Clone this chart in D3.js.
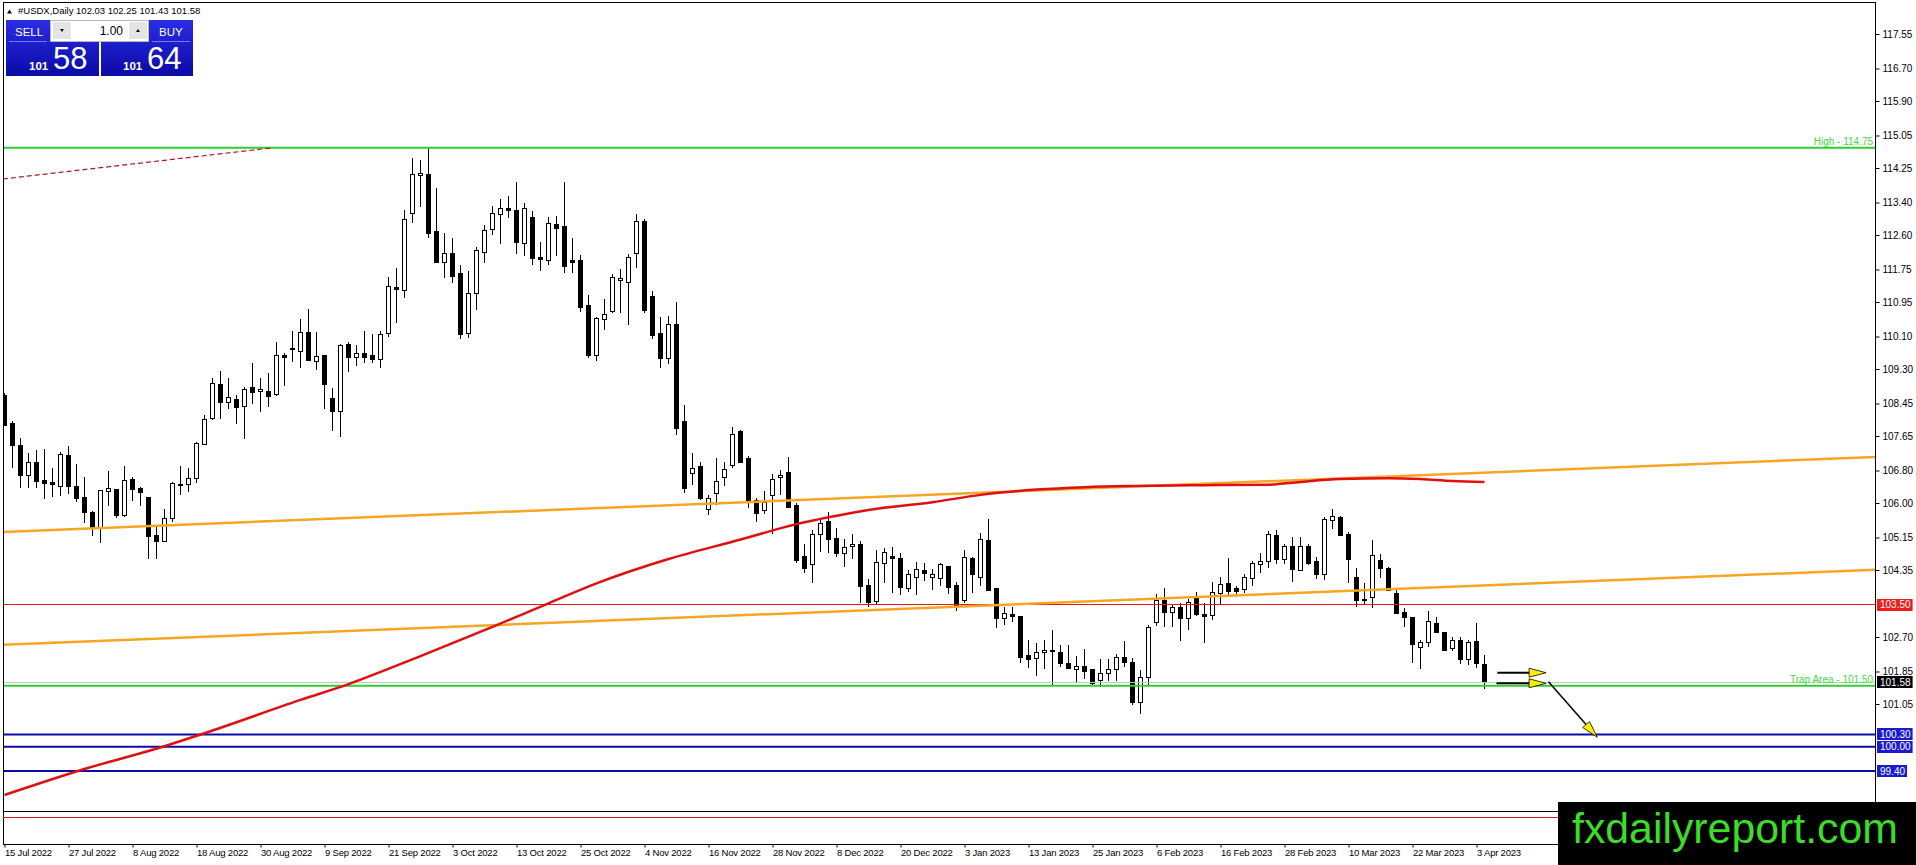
<!DOCTYPE html>
<html>
<head>
<meta charset="utf-8">
<script src="https://cdnjs.cloudflare.com/ajax/libs/d3/7.8.5/d3.min.js"></script>
<style>
    html, body { margin: 0; padding: 0; background: #fff; }
    svg { display: block; font-family: "Liberation Sans", Arial, sans-serif; }
</style>
</head>
<body>
<div id="chart"></div>
<script>
// daily bars, 15 Jul 2022 .. 4 Apr 2023
var opens = [108.66,107.97,107.43,106.69,107.01,106.56,106.52,106.42,107.18,106.42,106.15,105.78,105.38,106.30,106.34,105.70,106.59,106.37,106.15,105.21,
    105.07,105.63,106.47,106.47,106.61,107.45,108.09,108.93,108.49,108.56,108.39,108.86,108.76,108.76,108.68,109.64,109.82,109.74,110.21,109.50,
    109.64,108.58,108.26,109.91,109.59,109.69,109.64,109.54,110.19,111.32,111.24,113.14,114.08,114.10,112.70,111.93,112.16,111.66,110.19,111.17,
    112.18,112.75,113.12,113.26,113.21,112.40,113.04,112.06,111.98,112.87,112.82,111.98,111.98,110.88,109.64,110.53,110.73,111.49,111.44,112.16,
    112.94,111.10,110.19,109.57,110.41,108.02,106.74,106.91,105.85,106.25,106.64,106.94,107.77,107.11,106.07,105.83,106.20,106.64,106.76,105.95,
    104.69,104.50,105.24,105.56,105.14,104.77,104.94,104.99,103.97,103.58,104.52,104.69,104.64,103.90,104.18,104.35,104.18,104.15,104.45,103.97,
    103.61,104.64,104.18,105.09,103.91,103.17,103.27,103.22,102.26,102.18,102.33,102.38,102.33,102.06,101.91,101.99,101.91,101.64,101.81,101.91,
    102.21,102.08,101.10,101.72,103.07,103.61,103.31,103.44,103.17,103.68,103.27,103.24,103.78,104.03,103.91,103.88,104.15,104.50,104.57,105.21,
    104.62,104.94,104.35,104.94,104.57,104.25,105.58,105.65,105.24,104.18,103.64,103.68,104.59,104.40,103.78,103.31,103.19,102.45,102.57,103.04,
    102.82,102.43,102.63,102.16,102.60,102.03];
var highs = [108.71,108.02,107.60,107.23,107.30,107.33,106.86,107.25,107.40,106.96,106.64,105.80,106.32,106.79,106.35,106.91,106.64,106.40,106.16,105.41,
    105.85,106.52,106.91,106.86,107.50,108.17,109.08,109.25,109.08,108.66,108.86,109.45,109.08,109.20,109.96,109.69,110.23,110.53,110.78,110.21,
    109.64,108.83,109.91,109.96,109.89,110.23,110.16,110.23,111.56,111.79,113.21,114.50,114.45,114.74,113.76,112.65,112.53,111.86,111.71,112.30,
    112.85,113.31,113.49,113.56,113.90,113.39,113.19,112.43,113.04,113.07,113.90,112.53,112.11,111.12,110.58,111.02,111.64,111.76,112.13,113.12,
    113.00,111.22,110.58,110.60,110.95,108.41,107.23,107.01,106.20,107.11,107.01,107.87,107.80,107.16,106.12,106.29,106.71,106.81,107.13,106.00,
    105.00,105.33,105.58,105.78,105.38,105.11,105.24,105.06,104.13,104.84,104.89,104.91,104.77,104.35,104.55,104.52,104.37,104.52,104.46,104.05,
    104.84,104.67,105.26,105.61,103.91,103.44,103.44,103.22,102.63,102.55,102.63,102.87,102.50,102.50,102.23,102.40,101.92,102.16,102.16,102.28,
    102.60,102.18,101.89,102.99,103.76,103.91,103.51,103.54,103.64,103.81,103.54,104.05,104.18,104.64,103.96,104.25,104.57,104.77,105.31,105.33,
    104.99,105.16,105.16,104.99,104.67,105.65,105.85,105.68,105.28,104.40,104.03,105.09,104.74,104.42,103.91,103.41,103.19,102.63,103.34,103.19,
    102.82,102.70,102.70,102.63,103.04,102.25];
var lows = [107.90,106.86,106.37,106.37,106.37,106.10,106.15,106.17,106.22,106.02,105.51,105.19,105.01,105.92,105.63,105.65,106.05,105.92,104.62,104.62,
    105.04,105.53,106.20,106.27,106.49,107.43,108.04,108.07,108.31,107.94,107.57,108.44,108.24,108.36,108.63,108.88,109.47,109.32,109.52,109.27,
    108.31,107.77,107.62,109.22,109.37,109.45,109.45,109.32,110.09,110.43,111.05,112.89,113.29,112.53,111.93,111.54,111.42,110.04,110.06,110.75,
    111.91,112.60,112.38,113.02,112.13,112.08,111.86,111.71,111.86,112.08,111.66,111.66,110.70,109.57,109.50,110.26,110.68,110.68,110.38,111.79,
    110.68,110.04,109.32,109.42,107.67,106.25,106.44,106.07,105.70,105.95,106.42,106.86,106.98,105.88,105.53,105.73,105.24,106.20,105.88,104.52,
    104.27,104.03,104.79,104.77,104.67,104.42,104.62,103.54,103.44,103.51,104.03,103.78,103.73,103.81,103.73,104.08,103.86,103.96,103.76,103.34,
    103.54,103.78,103.96,103.83,102.92,102.99,103.07,102.06,101.94,101.74,101.91,101.53,101.96,101.91,101.56,101.67,101.53,101.47,101.62,101.62,
    101.96,101.02,100.80,101.53,102.97,102.94,102.94,102.60,102.87,103.22,102.55,103.12,103.51,103.71,103.76,103.78,103.96,104.27,104.40,104.50,
    104.50,104.05,104.32,104.47,104.13,104.10,105.36,105.18,104.03,103.44,103.51,103.41,104.15,103.83,103.27,102.94,102.06,101.91,102.45,102.80,
    102.36,102.36,102.04,102.01,101.94,101.43];
var closes = [107.92,107.43,106.69,107.01,106.54,106.49,106.47,107.21,106.42,106.12,105.78,105.38,106.32,106.37,105.70,106.56,106.34,106.27,105.19,105.07,
    105.63,106.49,106.45,106.61,107.48,108.07,108.95,108.49,108.61,108.36,108.81,108.73,108.81,108.63,109.64,109.59,109.79,110.21,109.52,109.62,
    108.93,108.26,109.89,109.59,109.69,109.59,109.54,110.16,111.34,111.27,112.99,114.10,114.12,112.65,111.93,112.16,111.59,110.16,111.17,112.23,
    112.72,113.14,113.26,113.21,112.43,113.26,112.03,112.01,112.89,112.77,111.84,111.93,110.83,109.64,110.55,110.65,111.56,111.54,112.06,112.94,
    110.75,110.14,109.57,110.41,107.85,106.37,106.86,106.12,106.12,106.54,106.84,107.70,107.01,106.02,105.75,106.02,106.59,106.69,105.90,104.59,
    104.40,105.24,105.51,105.11,104.77,104.91,104.98,103.95,103.56,104.55,104.79,104.64,103.93,104.25,104.37,104.28,104.25,104.50,103.93,103.46,
    104.67,104.25,105.11,103.86,103.17,103.29,103.22,102.21,102.16,102.33,102.38,102.36,102.06,101.94,101.99,101.86,101.56,101.81,101.91,102.21,
    102.08,101.10,101.72,102.94,103.61,103.31,103.44,103.17,103.56,103.27,103.22,103.81,104.00,103.83,103.83,104.18,104.52,104.57,105.24,104.62,
    104.94,104.37,104.94,104.52,104.25,105.61,105.68,105.21,104.62,103.61,103.61,104.72,104.40,103.86,103.29,103.19,102.53,102.57,103.09,102.82,
    102.38,102.63,102.16,102.57,102.06,101.58];

var dateLabels = ["15 Jul 2022", "27 Jul 2022", "8 Aug 2022", "18 Aug 2022", "30 Aug 2022", "9 Sep 2022", "21 Sep 2022", "3 Oct 2022",
    "13 Oct 2022", "25 Oct 2022", "4 Nov 2022", "16 Nov 2022", "28 Nov 2022", "8 Dec 2022", "20 Dec 2022", "3 Jan 2023",
    "13 Jan 2023", "25 Jan 2023", "6 Feb 2023", "16 Feb 2023", "28 Feb 2023", "10 Mar 2023", "22 Mar 2023", "3 Apr 2023"];
var dateIndex = d3.range(0, 185, 8);

var priceTicks = [117.55, 116.70, 115.90, 115.05, 114.25, 113.40, 112.60, 111.75, 110.95, 110.10, 109.30, 108.45,
    107.65, 106.80, 106.00, 105.15, 104.35, 102.70, 101.85, 101.05];

// moving average, read at bar index
var maIndex = [0, 10, 20, 25, 37, 43, 52, 61, 68, 74, 83, 92, 99, 103, 108, 116, 122, 129, 135, 141, 150, 158, 162, 167, 173, 177, 181, 185];
var maValue = [98.81, 99.45, 100.01, 100.33, 101.15, 101.54, 102.23, 102.95, 103.53, 104.02, 104.62, 105.10, 105.48, 105.65, 105.83, 106.02,
    106.20, 106.33, 106.39, 106.42, 106.44, 106.45, 106.52, 106.59, 106.61, 106.59, 106.54, 106.52];

// trend lines [bar, price]
var upperTrend = [[0, 105.29], [180, 106.71]];
var lowerTrend = [[0, 102.51], [180, 103.93]];
var oldTrend = [[-0.2, 113.98], [33.2, 114.74]];

var highLevel = 114.75;
var pivotLevel = 103.50;
var trapLevel = 101.50;
var bidPrice = 101.58;
var askPrice = 101.64;
var targetLevels = [100.30, 100.00, 99.40];

// forecast arrows [bar, price]
var arrowH1 = [[186.6, 101.82], [192.7, 101.82]];
var arrowH2 = [[186.5, 101.56], [192.7, 101.56]];
var arrowDown = [[193.0, 101.60], [199.1, 100.23]];

var width = 1916, height = 865,
    plotLeft = 3, plotRight = 1875, plotTop = 2, mainBottom = 811, axisBottom = 844;

var x = d3.scaleLinear().domain([0, 185]).range([4.5, 1484.5]);
var y = d3.scaleLinear().domain([117.55, 102.70]).range([34, 637]);

var svg = d3.select("#chart").append("svg")
    .attr("width", width)
    .attr("height", height);

var defs = svg.append("defs");
defs.append("clipPath").attr("id", "main")
    .append("rect").attr("x", plotLeft).attr("y", plotTop)
    .attr("width", plotRight - plotLeft).attr("height", mainBottom - plotTop);
var grad = defs.append("linearGradient").attr("id", "btn").attr("x1", 0).attr("y1", 0).attr("x2", 0).attr("y2", 1);
grad.append("stop").attr("offset", "0%").attr("stop-color", "#2c2ce4");
grad.append("stop").attr("offset", "100%").attr("stop-color", "#0a0aa6");

var plot = svg.append("g").attr("clip-path", "url(#main)");

var bars = opens.map(function (o, i) {
    return {i: i, o: o, h: highs[i], l: lows[i], c: closes[i]};
});

// candles
var candle = plot.append("g").attr("shape-rendering", "crispEdges")
    .selectAll("g").data(bars).enter().append("g");

candle.append("line")
    .attr("x1", function (d) { return x(d.i); })
    .attr("x2", function (d) { return x(d.i); })
    .attr("y1", function (d) { return Math.round(y(d.h)); })
    .attr("y2", function (d) { return Math.round(y(d.l)); })
    .attr("stroke", "#000").attr("stroke-width", 1);

candle.append("rect")
    .attr("x", function (d) { return x(d.i) - 2; })
    .attr("width", 4)
    .attr("y", function (d) { return Math.round(y(Math.max(d.o, d.c))) + 0.5; })
    .attr("height", function (d) {
        return Math.max(1, Math.round(y(Math.min(d.o, d.c))) - Math.round(y(Math.max(d.o, d.c))));
    })
    .attr("fill", function (d) { return d.c >= d.o ? "#fff" : "#000"; })
    .attr("stroke", "#000").attr("stroke-width", 1);

// rays extended over the whole plot
function ray(pts) {
    var slope = (pts[1][1] - pts[0][1]) / (pts[1][0] - pts[0][0]);
    var i0 = x.invert(plotLeft), i1 = x.invert(plotRight);
    return [[i0, pts[0][1] + slope * (i0 - pts[0][0])], [i1, pts[0][1] + slope * (i1 - pts[0][0])]];
}

var line = d3.line()
    .x(function (d) { return x(d[0]); })
    .y(function (d) { return y(d[1]); });

function hline(price, color, w) {
    plot.append("line")
        .attr("x1", plotLeft).attr("x2", plotRight)
        .attr("y1", y(price)).attr("y2", y(price))
        .attr("stroke", color).attr("stroke-width", w);
}

hline(bidPrice, "#c4c4c4", 1);
hline(highLevel, "#32cd32", 2);
hline(trapLevel, "#32cd32", 2);
hline(pivotLevel, "#e01818", 1);
targetLevels.forEach(function (p) { hline(p, "#0c0ca8", 2); });

plot.append("path").datum(oldTrend).attr("d", line)
    .attr("fill", "none").attr("stroke", "#b01a1a").attr("stroke-width", 1.2).attr("stroke-dasharray", "5,3");

[upperTrend, lowerTrend].forEach(function (t) {
    plot.append("path").datum(ray(t)).attr("d", line)
        .attr("fill", "none").attr("stroke", "#f5a623").attr("stroke-width", 2.5);
});

plot.append("path")
    .datum(maIndex.map(function (d, k) { return [d, maValue[k]]; }))
    .attr("d", line.curve(d3.curveMonotoneX))
    .attr("fill", "none").attr("stroke", "#e01010").attr("stroke-width", 2.5);
line.curve(d3.curveLinear);

// level captions
plot.append("text").attr("x", plotRight - 2).attr("y", y(highLevel) - 3)
    .attr("text-anchor", "end").attr("font-size", 10).attr("fill", "#45d845")
    .text("High - " + highLevel.toFixed(2));
plot.append("text").attr("x", plotRight - 2).attr("y", y(trapLevel) - 3)
    .attr("text-anchor", "end").attr("font-size", 10).attr("fill", "#45d845")
    .text("Trap Area - " + trapLevel.toFixed(2));

// arrows
function arrow(pts, lw) {
    var x0 = x(pts[0][0]), y0 = y(pts[0][1]), x1 = x(pts[1][0]), y1 = y(pts[1][1]);
    var len = Math.hypot(x1 - x0, y1 - y0), ux = (x1 - x0) / len, uy = (y1 - y0) / len;
    var bx = x1 - ux * 17, by = y1 - uy * 17;
    svg.append("line").attr("x1", x0).attr("y1", y0).attr("x2", bx).attr("y2", by)
        .attr("stroke", "#000").attr("stroke-width", lw);
    svg.append("path")
        .attr("d", "M" + x1 + "," + y1 + "L" + (bx - uy * 4.5) + "," + (by + ux * 4.5) +
            "L" + (bx + uy * 4.5) + "," + (by - ux * 4.5) + "Z")
        .attr("fill", "#ffee00").attr("stroke", "#000").attr("stroke-width", 0.8);
}
arrow(arrowH1, 2);
arrow(arrowH2, 2);
arrow(arrowDown, 1.5);

// frame and sub window
svg.append("rect").attr("x", plotLeft + 0.5).attr("y", plotTop + 0.5)
    .attr("width", plotRight - plotLeft).attr("height", axisBottom - plotTop)
    .attr("fill", "none").attr("stroke", "#000").attr("stroke-width", 1);
svg.append("line").attr("x1", plotLeft).attr("x2", plotRight).attr("y1", mainBottom + 0.5).attr("y2", mainBottom + 0.5)
    .attr("stroke", "#000");
svg.append("line").attr("x1", plotLeft).attr("x2", plotRight).attr("y1", mainBottom + 6.5).attr("y2", mainBottom + 6.5)
    .attr("stroke", "#d42020");

// price axis
var yAxis = svg.append("g")
    .attr("transform", "translate(" + (plotRight + 0.5) + ",0)")
    .call(d3.axisRight(y).tickValues(priceTicks).tickSize(4).tickPadding(3).tickFormat(d3.format(".2f")));
yAxis.select(".domain").remove();
yAxis.selectAll("text").attr("font-size", 10).attr("font-family", "Liberation Sans, Arial").attr("fill", "#000");

// time axis
var xAxis = svg.append("g")
    .attr("transform", "translate(0," + (axisBottom + 0.5) + ")")
    .call(d3.axisBottom(x).tickValues(dateIndex).tickSize(3).tickFormat(function (d, k) { return dateLabels[k]; }));
xAxis.select(".domain").remove();
xAxis.selectAll("text").attr("font-size", 9.5).attr("letter-spacing", "-0.2px")
    .attr("font-family", "Liberation Sans, Arial").attr("text-anchor", "start")
    .attr("x", 0).attr("y", 5).attr("dy", "0.71em").attr("fill", "#000");

// price boxes on the axis
function priceBox(price, color) {
    var g = svg.append("g");
    var t = g.append("text").attr("x", plotRight + 5).attr("y", y(price)).attr("dy", "0.35em")
        .attr("font-size", 10).attr("fill", "#fff").text(price.toFixed(2));
    var w = t.node().getComputedTextLength();
    g.insert("rect", "text").attr("x", plotRight + 2).attr("y", Math.round(y(price)) - 6)
        .attr("width", w + 5).attr("height", 12).attr("fill", color);
}
priceBox(pivotLevel, "#ee1c1c");
priceBox(bidPrice, "#000");
targetLevels.forEach(function (p) { priceBox(p, "#1a1ad0"); });

// header and one click trading panel
svg.append("path").attr("d", "M7,13.5L9.5,9.5L12,13.5Z").attr("fill", "#000");
svg.append("text").attr("x", 18).attr("y", 14).attr("font-size", 9.5).attr("fill", "#000")
    .text("#USDX,Daily  " + [opens[185], highs[185], lows[185], closes[185]].map(function (v) { return v.toFixed(2); }).join(" "));

svg.append("rect").attr("x", 6).attr("y", 20).attr("width", 93).attr("height", 56).attr("fill", "url(#btn)");
svg.append("rect").attr("x", 101).attr("y", 20).attr("width", 92).attr("height", 56).attr("fill", "url(#btn)");
svg.append("line").attr("x1", 9).attr("x2", 47).attr("y1", 41.5).attr("y2", 41.5).attr("stroke", "#7a7aff");
svg.append("line").attr("x1", 152).attr("x2", 190).attr("y1", 41.5).attr("y2", 41.5).attr("stroke", "#7a7aff");
svg.append("rect").attr("x", 50.5).attr("y", 20.5).attr("width", 98).attr("height", 21)
    .attr("fill", "#fff").attr("stroke", "#b8b8b8");
svg.append("rect").attr("x", 53).attr("y", 22).attr("width", 18).attr("height", 17).attr("fill", "#e4e4e4");
svg.append("rect").attr("x", 129).attr("y", 22).attr("width", 18).attr("height", 17).attr("fill", "#e4e4e4");
svg.append("path").attr("d", "M60,29L64,29L62,32Z").attr("fill", "#000");
svg.append("path").attr("d", "M136,32L140,32L138,29Z").attr("fill", "#000");
svg.append("text").attr("x", 123).attr("y", 35).attr("text-anchor", "end").attr("font-size", 12).attr("fill", "#000").text("1.00");

svg.append("text").attr("x", 15).attr("y", 36).attr("font-size", 11.5).attr("fill", "#fff").text("SELL");
svg.append("text").attr("x", 159).attr("y", 36).attr("font-size", 11.5).attr("fill", "#fff").text("BUY");

[[bidPrice, 29, 53], [askPrice, 123, 147]].forEach(function (d) {
    var s = d[0].toFixed(2).split(".");
    svg.append("text").attr("x", d[1]).attr("y", 70).attr("font-size", 11.5).attr("font-weight", "bold")
        .attr("fill", "#fff").text(s[0]);
    svg.append("text").attr("x", d[2]).attr("y", 69).attr("font-size", 31).attr("fill", "#fff").text(s[1]);
});

// logo
svg.append("rect").attr("x", 1558).attr("y", 802).attr("width", 358).attr("height", 63).attr("fill", "#000");
svg.append("text").attr("x", 1572).attr("y", 843).attr("font-size", 42).attr("fill", "#3cdc28")
    .attr("textLength", 326).attr("lengthAdjust", "spacingAndGlyphs").text("fxdailyreport.com");
</script>
</body>
</html>
